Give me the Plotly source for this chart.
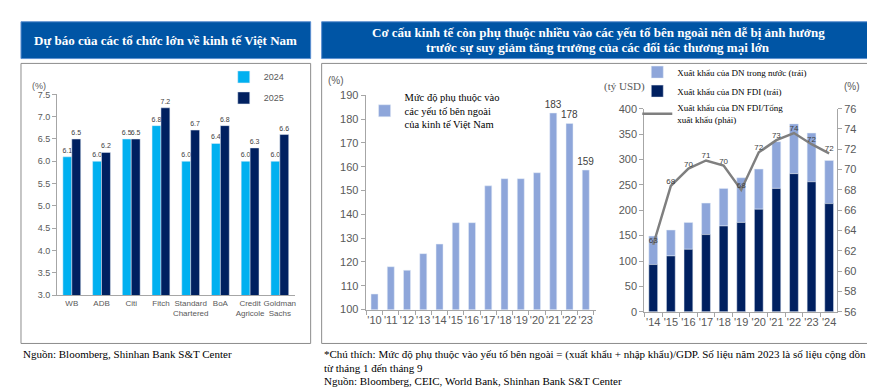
import plotly.graph_objects as go

W, H = 875, 387

# ---------------- data ----------------
orgs = ["WB", "ADB", "Citi", "Fitch", "Standard<br>Chartered", "BoA", "Credit<br>Agricole", "Goldman<br>Sachs"]
gdp_2024 = [6.1, 6.0, 6.5, 6.8, 6.0, 6.4, 6.0, 6.0]
gdp_2025 = [6.5, 6.2, 6.5, 7.2, 6.7, 6.8, 6.3, 6.6]

dep_years = ["'10", "'11", "'12", "'13", "'14", "'15", "'16", "'17", "'18", "'19", "'20", "'21", "'22", "'23"]
dep_values = [106.5, 118, 116.5, 123.5, 127.5, 136.5, 136.5, 152, 155, 155, 157.5, 182.6, 178.2, 158.6]
dep_labelled = ["'21", "'22", "'23"]

exp_years = ["'14", "'15", "'16", "'17", "'18", "'19", "'20", "'21", "'22", "'23", "'24"]
fdi_exports = [93, 110, 123, 152, 169, 176, 202, 243, 272, 256, 213]
domestic_exports = [56, 51, 53, 62, 74, 88, 79, 92, 98, 96, 85]
fdi_share = [62.6, 68.4, 70.1, 70.9, 70.4, 68.0, 71.7, 72.9, 73.6, 72.5, 71.6]

# ---------------- helpers ----------------
def px_x(x):
    return x / W

def px_y(y):
    return 1 - y / H

C24 = "#00B0F0"
C25 = "#002060"
CMID = "#8EA6DA"
CDOM = "#8EA6DA"
CFDI = "#002060"
CLINE = "#7F7F7F"
TICK = "#595959"
AXL = "#A6A6A6"
SERIF = "Liberation Serif"
SANS = "Liberation Sans"
NARROW = "Liberation Sans Narrow, Liberation Sans"

fig = go.Figure()

# ---- left chart ----
fig.add_trace(go.Bar(
    x=orgs, y=gdp_2024, name="2024", marker_color=C24, width=0.3, offset=-0.3,
    text=[f"{v:.1f}" for v in gdp_2024], textposition="outside", constraintext="none",
    textfont=dict(size=7, color="#404040", family=NARROW), cliponaxis=False,
    xaxis="x", yaxis="y", legend="legend", legendgroup="a"))
fig.add_trace(go.Bar(
    x=orgs, y=gdp_2025, name="2025", marker_color=C25, width=0.3, offset=0,
    text=[f"{v:.1f}" for v in gdp_2025], textposition="outside", constraintext="none",
    textfont=dict(size=7, color="#404040", family=NARROW), cliponaxis=False,
    xaxis="x", yaxis="y", legend="legend", legendgroup="b"))

# ---- middle chart ----
fig.add_trace(go.Bar(
    x=dep_years, y=dep_values,
    name="Mức độ phụ thuộc vào<br>các yếu tố bên ngoài<br>của kinh tế Việt Nam",
    marker_color=CMID, width=0.43,
    text=[f"{v:.0f}" if yr in dep_labelled else "" for yr, v in zip(dep_years, dep_values)],
    textposition="outside", constraintext="none",
    textfont=dict(size=10, color="#404040", family=SANS),
    cliponaxis=False, xaxis="x2", yaxis="y2", legend="legend2"))

# ---- right chart ----
fig.add_trace(go.Bar(
    x=exp_years, y=domestic_exports, base=fdi_exports,
    name="Xuất khẩu của DN trong nước (trái)", marker_color=CDOM, width=0.5, offset=-0.25,
    xaxis="x3", yaxis="y3", legend="legend3", legendgroup="c"))
fig.add_trace(go.Bar(
    x=exp_years, y=fdi_exports,
    name="Xuất khẩu của DN FDI (trái)", marker_color=CFDI, width=0.5, offset=-0.25,
    xaxis="x3", yaxis="y3", legend="legend3", legendgroup="d"))
fig.add_trace(go.Scatter(
    x=exp_years, y=fdi_share, mode="lines+text",
    name="Xuất khẩu của DN FDI/Tổng<br>xuất khẩu (phải)",
    line=dict(color=CLINE, width=2.5),
    text=[f"{v:.0f}" for v in fdi_share], textposition="top center",
    textfont=dict(size=8, color="#404040", family=SANS), cliponaxis=False,
    xaxis="x3", yaxis="y4", legend="legend3", legendgroup="e"))

axis_common = dict(showline=True, linecolor=AXL, linewidth=1, showgrid=False, zeroline=False,
                   tickcolor=AXL, ticklen=4, fixedrange=True, tickangle=0)

fig.update_layout(
    width=W, height=H, margin=dict(l=0, r=0, t=0, b=0),
    paper_bgcolor="white", plot_bgcolor="rgba(0,0,0,0)",
    barmode="overlay",
    font=dict(family=SANS, size=10, color=TICK),
    xaxis=dict(domain=[px_x(49), px_x(287)], anchor="y", range=[-0.5, 7.5], ticks="",
               tickfont=dict(size=8, color=TICK), **axis_common),
    yaxis=dict(domain=[px_y(290), px_y(83)], anchor="x", range=[3, 7.5], dtick=0.5, ticks="outside",
               tickformat=".1f", tickfont=dict(size=9, color=TICK), **axis_common),
    xaxis2=dict(domain=[px_x(358), px_x(589)], anchor="y2", range=[-0.55, 13.65], ticks="outside",
                tickfont=dict(size=11, color=TICK), tickson="boundaries", **axis_common),
    yaxis2=dict(domain=[px_y(305), px_y(84)], anchor="x2", range=[100, 190], dtick=10, ticks="outside",
                tickfont=dict(size=11, color=TICK), **axis_common),
    xaxis3=dict(domain=[px_x(637), px_x(830)], anchor="y3", range=[-0.51, 10.45], ticks="outside",
                tickfont=dict(size=11, color=TICK), tickson="boundaries", **axis_common),
    yaxis3=dict(domain=[px_y(307.3), px_y(97.7)], anchor="x3", range=[0, 400], dtick=50, ticks="outside",
                tickfont=dict(size=11, color=TICK), **axis_common),
    yaxis4=dict(domain=[px_y(307.3), px_y(97.7)], anchor="x3", overlaying="y3", side="right", ticks="outside",
                range=[56, 76], dtick=2, tickfont=dict(size=11, color=TICK), **axis_common),
    legend=dict(x=px_x(216), y=px_y(50), xanchor="left", yanchor="top",
                font=dict(size=9, color=TICK, family=SANS), tracegroupgap=2,
                bgcolor="rgba(0,0,0,0)", itemwidth=30),
    legend2=dict(x=px_x(357), y=px_y(72), xanchor="left", yanchor="top",
                 font=dict(size=10.5, color="#000000", family=SERIF),
                 bgcolor="rgba(0,0,0,0)", itemwidth=30),
    legend3=dict(x=px_x(630), y=px_y(45), xanchor="left", yanchor="top",
                 font=dict(size=9, color="#000000", family=SERIF), tracegroupgap=0,
                 bgcolor="rgba(0,0,0,0)", itemwidth=30),
)

shapes = []
for x0, x1 in [(13, 303), (314, 868)]:
    shapes.append(dict(type="rect", xref="paper", yref="paper",
                       x0=px_x(x0), x1=px_x(x1), y0=px_y(46), y1=px_y(8),
                       fillcolor="#0055A5", line=dict(color="#5B8FD0", width=1), layer="below"))
    shapes.append(dict(type="rect", xref="paper", yref="paper",
                       x0=px_x(x0), x1=px_x(x1), y0=px_y(340), y1=px_y(51),
                       fillcolor="rgba(0,0,0,0)", line=dict(color="#8C8C8C", width=1), layer="below"))
fig.update_layout(shapes=shapes)

ann = []
ann.append(dict(text="<b>Dự báo của các tổ chức lớn về kinh tế Việt Nam</b>", x=px_x(158), y=px_y(27),
                xref="paper", yref="paper", showarrow=False, xanchor="center", yanchor="middle",
                font=dict(family=SERIF, size=13, color="white")))
ann.append(dict(text="<b>Cơ cấu kinh tế còn phụ thuộc nhiều vào các yếu tố bên ngoài nên dễ bị ảnh hưởng</b>",
                x=px_x(591), y=px_y(19), xref="paper", yref="paper", showarrow=False,
                xanchor="center", yanchor="middle", font=dict(family=SERIF, size=13, color="white")))
ann.append(dict(text="<b>trước sự suy giảm tăng trưởng của các đối tác thương mại lớn</b>",
                x=px_x(591), y=px_y(35), xref="paper", yref="paper", showarrow=False,
                xanchor="center", yanchor="middle", font=dict(family=SERIF, size=13, color="white")))
ann.append(dict(text="(%)", x=px_x(31), y=px_y(74), xref="paper", yref="paper", showarrow=False,
                xanchor="center", yanchor="middle", font=dict(family=SANS, size=9, color=TICK)))
ann.append(dict(text="(%)", x=px_x(328), y=px_y(69), xref="paper", yref="paper", showarrow=False,
                xanchor="center", yanchor="middle", font=dict(family=SANS, size=10, color=TICK)))
ann.append(dict(text="(tỷ USD)", x=px_x(617), y=px_y(75), xref="paper", yref="paper", showarrow=False,
                xanchor="center", yanchor="middle", font=dict(family=SERIF, size=11, color=TICK)))
ann.append(dict(text="(%)", x=px_x(845), y=px_y(75), xref="paper", yref="paper", showarrow=False,
                xanchor="center", yanchor="middle", font=dict(family=SANS, size=10, color=TICK)))
ann.append(dict(text="Nguồn: Bloomberg, Shinhan Bank S&T Center", x=px_x(13), y=px_y(351),
                xref="paper", yref="paper", showarrow=False, xanchor="left", yanchor="middle",
                font=dict(family=SERIF, size=11, color="black")))
notes = ["*Chú thích: Mức độ phụ thuộc vào yếu tố bên ngoài = (xuất khẩu + nhập khẩu)/GDP. Số liệu năm 2023 là số liệu cộng dồn",
         "từ tháng 1 đến tháng 9",
         "Nguồn: Bloomberg, CEIC, World Bank, Shinhan Bank S&T Center"]
for i, t in enumerate(notes):
    ann.append(dict(text=t, x=px_x(314), y=px_y(351 + 14 * i), xref="paper", yref="paper",
                    showarrow=False, xanchor="left", yanchor="middle",
                    font=dict(family=SERIF, size=11, color="black")))
fig.update_layout(annotations=ann)

fig.write_html("out.html")
